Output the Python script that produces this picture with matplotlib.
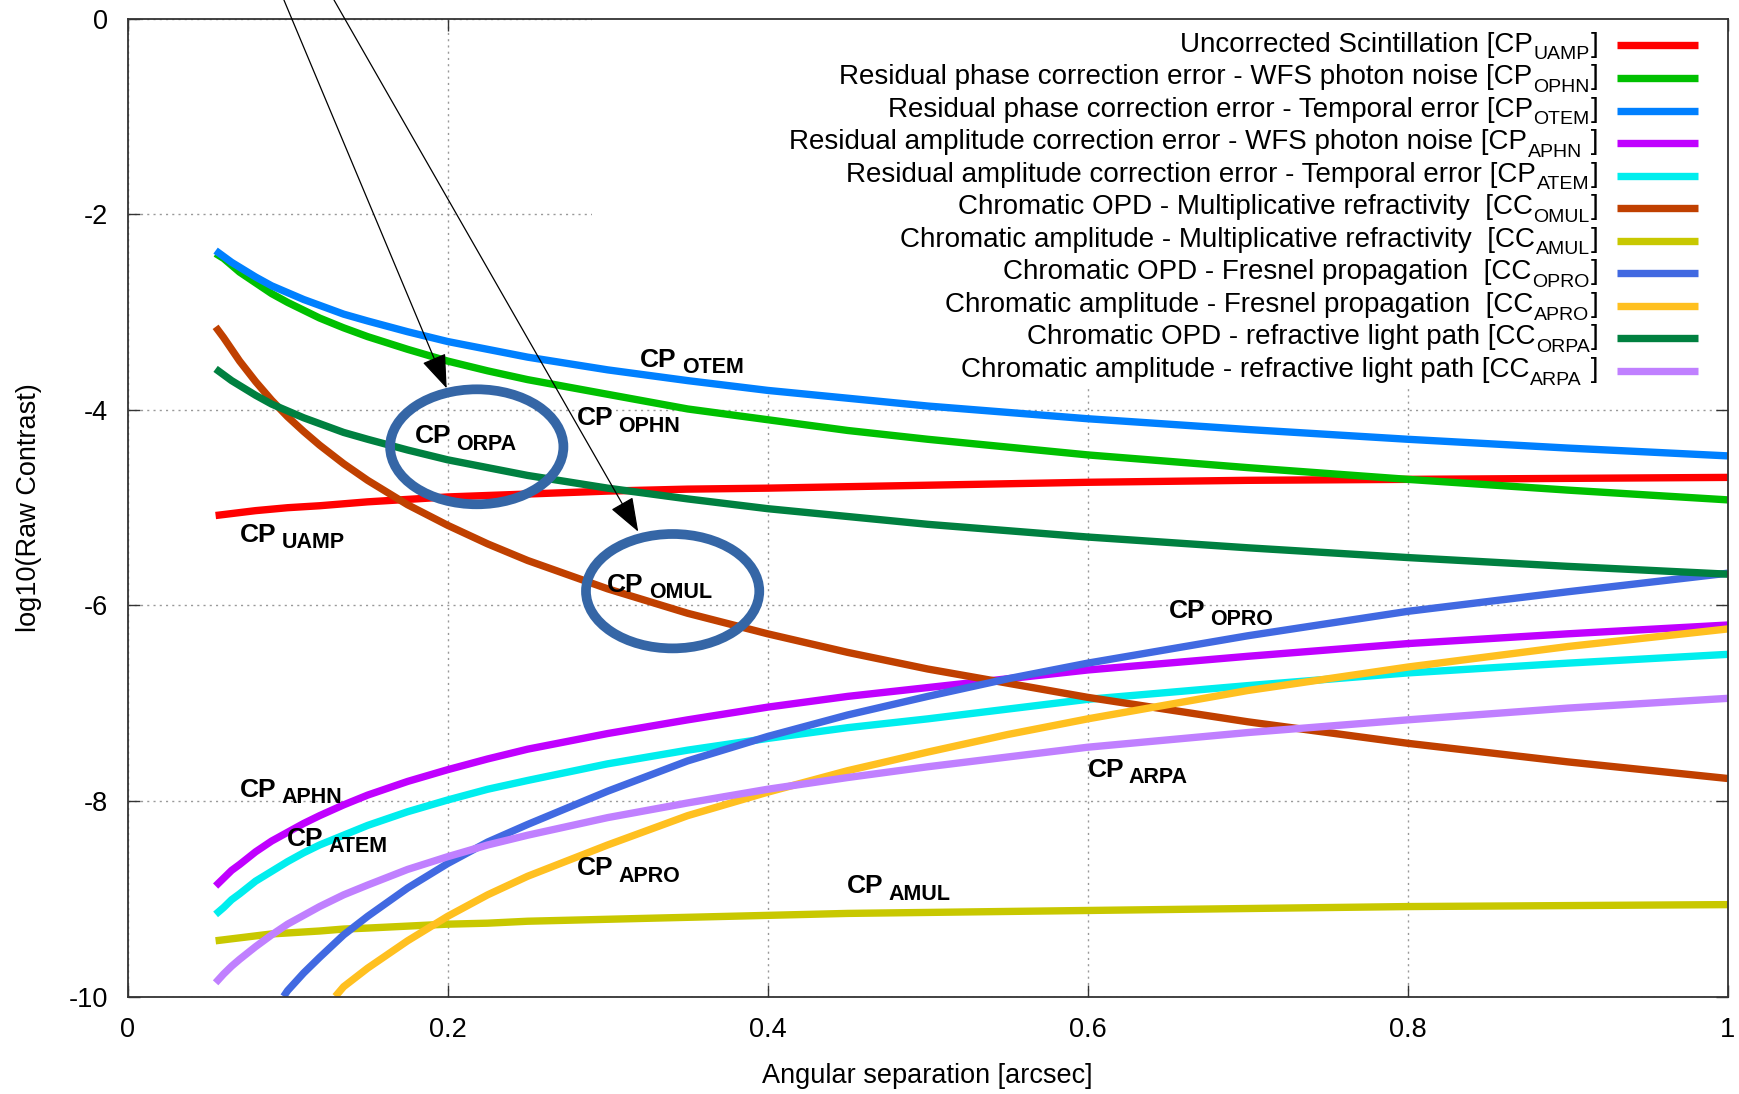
import matplotlib
matplotlib.use("Agg")
import matplotlib.pyplot as plt
from matplotlib.patches import Ellipse, Rectangle

plt.rcParams['font.family'] = ['Liberation Sans', 'DejaVu Sans']
plt.rcParams['axes.unicode_minus'] = False

# angular separation grid shared by most curves [arcsec]
x_common = [0.055, 0.06, 0.065, 0.07, 0.08, 0.09, 0.1, 0.11, 0.12, 0.135, 0.15, 0.175, 0.2,
            0.225, 0.25, 0.3, 0.35, 0.4, 0.45, 0.5, 0.6, 0.7, 0.8, 0.9, 1.0]

# log10(raw contrast)
uamp = [-5.08, -5.07, -5.06, -5.05, -5.03, -5.015, -5.00, -4.99, -4.98, -4.96, -4.94, -4.915, -4.89,
        -4.875, -4.86, -4.83, -4.81, -4.80, -4.785, -4.77, -4.74, -4.72, -4.71, -4.70, -4.69]
ophn = [-2.40, -2.45, -2.52, -2.59, -2.70, -2.81, -2.90, -2.98, -3.06, -3.16, -3.25, -3.38, -3.50,
        -3.60, -3.69, -3.84, -3.99, -4.10, -4.21, -4.30, -4.46, -4.59, -4.71, -4.82, -4.92]
otem = [-2.37, -2.43, -2.49, -2.54, -2.64, -2.73, -2.80, -2.87, -2.93, -3.02, -3.09, -3.20, -3.30,
        -3.38, -3.46, -3.59, -3.70, -3.80, -3.88, -3.96, -4.09, -4.20, -4.30, -4.39, -4.47]
aphn = [-8.87, -8.79, -8.71, -8.65, -8.52, -8.41, -8.32, -8.23, -8.15, -8.04, -7.94, -7.80, -7.68,
        -7.57, -7.47, -7.31, -7.17, -7.04, -6.93, -6.84, -6.66, -6.52, -6.39, -6.29, -6.20]
atem = [-9.16, -9.09, -9.01, -8.95, -8.82, -8.72, -8.62, -8.53, -8.45, -8.35, -8.25, -8.11, -7.99,
        -7.88, -7.79, -7.62, -7.48, -7.36, -7.25, -7.16, -6.96, -6.82, -6.69, -6.59, -6.50]
omul = [-3.15, -3.26, -3.38, -3.50, -3.71, -3.90, -4.07, -4.22, -4.36, -4.55, -4.72, -4.97, -5.18,
        -5.37, -5.54, -5.83, -6.08, -6.29, -6.48, -6.65, -6.94, -7.19, -7.41, -7.60, -7.77]
amul = [-9.43, -9.42, -9.41, -9.40, -9.38, -9.36, -9.35, -9.34, -9.33, -9.31, -9.30, -9.28, -9.26,
        -9.25, -9.23, -9.21, -9.19, -9.17, -9.15, -9.14, -9.12, -9.10, -9.08, -9.07, -9.06]
orpa = [-3.58, -3.64, -3.70, -3.75, -3.85, -3.94, -4.01, -4.08, -4.14, -4.23, -4.30, -4.41, -4.51,
        -4.59, -4.67, -4.80, -4.91, -5.01, -5.09, -5.17, -5.30, -5.41, -5.51, -5.60, -5.68]
arpa = [-9.86, -9.77, -9.69, -9.62, -9.49, -9.37, -9.26, -9.17, -9.08, -8.96, -8.86, -8.70, -8.57,
        -8.45, -8.35, -8.17, -8.02, -7.88, -7.76, -7.65, -7.45, -7.30, -7.17, -7.05, -6.95]

# the Fresnel curves enter the plot from below, so they have their own x
x_opro = [0.0975, 0.1, 0.11, 0.12, 0.135, 0.15, 0.175, 0.2, 0.225, 0.25, 0.3, 0.35, 0.4, 0.45, 0.5,
          0.55, 0.6, 0.7, 0.8, 0.9, 1.0]
opro = [-10.0, -9.94, -9.76, -9.60, -9.37, -9.18, -8.89, -8.64, -8.42, -8.24, -7.90, -7.59, -7.34,
        -7.12, -6.93, -6.75, -6.59, -6.31, -6.06, -5.86, -5.67]
x_apro = [0.1298, 0.135, 0.15, 0.175, 0.2, 0.225, 0.25, 0.3, 0.35, 0.4, 0.45, 0.5, 0.55, 0.6, 0.7,
          0.8, 0.9, 1.0]
apro = [-10.0, -9.90, -9.71, -9.43, -9.18, -8.96, -8.77, -8.45, -8.15, -7.91, -7.69, -7.50, -7.32,
        -7.16, -6.87, -6.63, -6.42, -6.24]

codes = ['UAMP', 'OPHN', 'OTEM', 'APHN', 'ATEM', 'OMUL', 'AMUL', 'OPRO', 'APRO', 'ORPA', 'ARPA']
prefixes = ['CP', 'CP', 'CP', 'CP', 'CP', 'CC', 'CC', 'CC', 'CC', 'CC', 'CC']
descriptions = [
    'Uncorrected Scintillation ',
    'Residual phase correction error - WFS photon noise ',
    'Residual phase correction error - Temporal error ',
    'Residual amplitude correction error - WFS photon noise ',
    'Residual amplitude correction error - Temporal error ',
    'Chromatic OPD - Multiplicative refractivity  ',
    'Chromatic amplitude - Multiplicative refractivity  ',
    'Chromatic OPD - Fresnel propagation  ',
    'Chromatic amplitude - Fresnel propagation  ',
    'Chromatic OPD - refractive light path ',
    'Chromatic amplitude - refractive light path ',
]
closing = [']', ']', ']', ' ]', ']', ']', ']', ']', ']', ']', ' ]']
colors = ['#FF0000', '#00C000', '#0080FF', '#C000FF', '#00EEEE', '#C04000',
          '#C8C800', '#4169E1', '#FFC020', '#008040', '#C080FF']
xs = [x_common] * 7 + [x_opro, x_apro] + [x_common] * 2
ys = [uamp, ophn, otem, aphn, atem, omul, amul, opro, apro, orpa, arpa]

# in-plot curve tags (x, y of the "CP" baseline)
tag_x = [0.0702, 0.2806, 0.3203, 0.0702, 0.0998, 0.2998, 0.4496, 0.6506, 0.2806, 0.1796, 0.5998]
tag_y = [-5.348, -4.154, -3.557, -7.956, -8.457, -5.859, -8.944, -6.131, -8.757, -4.342, -7.752]

fig = plt.figure(figsize=(17.4, 10.94), dpi=100)
ax = fig.add_axes([0.07333, 0.08912, 0.91966, 0.89360])

for x, y, c in zip(xs, ys, colors):
    ax.plot(x, y, color=c, lw=5.3, solid_capstyle='butt', solid_joinstyle='round', zorder=2)

ax.set_xlim(0, 1)
ax.set_ylim(-10, 0)
ax.set_xticks([0, 0.2, 0.4, 0.6, 0.8, 1.0])
ax.set_xticklabels(['0', '0.2', '0.4', '0.6', '0.8', '1'])
ax.set_yticks([0, -2, -4, -6, -8, -10])
ax.set_yticklabels(['0', '-2', '-4', '-6', '-8', '-10'])
ax.set_axisbelow(True)
ax.grid(True, linestyle=(0, (1.5, 3)), color='#999999', lw=1.0)
ax.tick_params(direction='in', length=8.6, width=1.0, top=True, right=True,
               labelsize=19.5, color='#333333')
ax.tick_params(axis='y', pad=14)
ax.tick_params(axis='x', pad=15)
for s in ax.spines.values():
    s.set_color('#333333')
    s.set_linewidth(1.3)

ax.set_xlabel('Angular separation [arcsec]', fontsize=19.5, va='center')
ax.xaxis.set_label_coords(0.5, -0.0813)
ax.set_ylabel('log10(Raw Contrast)', fontsize=19.5, va='center')
ax.yaxis.set_label_coords(-0.0616, 0.5)

# white key box hides the grid behind the legend
ax.add_patch(Rectangle((0.29, -3.75), 0.71, 3.75, facecolor='white', edgecolor='none', zorder=0.8))

# key: text is right aligned, built right to left so the subscript can drop lower
ly0 = 0.9728
step = 0.03326
for i in range(len(codes)):
    ly = ly0 - i * step
    t_close = ax.text(0.9189, ly - 0.0062, closing[i], transform=ax.transAxes, ha='right',
                      va='baseline', fontsize=20, zorder=7)
    t_sub = ax.annotate(codes[i], xy=(0, 0), xycoords=t_close, xytext=(-0.5, -4.2),
                        textcoords='offset points', ha='right', va='bottom', fontsize=14, zorder=7)
    ax.annotate(descriptions[i] + '[' + prefixes[i], xy=(0, 0), xycoords=t_sub, xytext=(-0.5, 4.2),
                textcoords='offset points', ha='right', va='bottom', fontsize=20, zorder=7)
    ax.plot([0.9307, 0.9813], [ly, ly], transform=ax.transAxes, color=colors[i], lw=5.3,
            solid_capstyle='butt', clip_on=False, zorder=7)

for i in range(len(codes)):
    t = ax.text(tag_x[i], tag_y[i], 'CP', fontsize=19, fontweight='bold', ha='left',
                va='baseline', zorder=6)
    ax.annotate(codes[i], xy=(1, 0), xycoords=t, xytext=(3.5, -4.8), textcoords='offset points',
                fontsize=15.5, fontweight='bold', ha='left', va='bottom', zorder=6)

# highlighted regions
ax.add_patch(Ellipse((0.2182, -4.377), 0.1083, 1.176, fill=False, edgecolor='#3566A6', lw=7, zorder=8))
ax.add_patch(Ellipse((0.3406, -5.854), 0.1083, 1.17, fill=False, edgecolor='#3566A6', lw=7, zorder=8))

arrow = dict(arrowstyle='-|>,head_length=0.6,head_width=0.22', mutation_scale=36,
             color='black', lw=0.9, shrinkA=0, shrinkB=0)
ax.annotate('', xy=(0.1994, -3.779), xytext=(0.0977, 0.193), arrowprops=arrow,
            annotation_clip=False, zorder=9)
ax.annotate('', xy=(0.3191, -5.245), xytext=(0.129, 0.193), arrowprops=arrow,
            annotation_clip=False, zorder=9)

fig.savefig('out.png', dpi=100)
